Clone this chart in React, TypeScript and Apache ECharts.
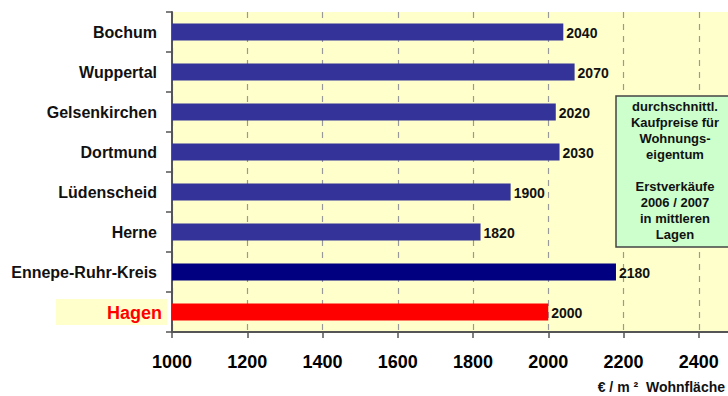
import React, { useEffect, useRef } from "react";
import * as echarts from "echarts";

// Average purchase prices for owner-occupied flats (€ per m² living space)
const regions = [
  "Bochum",
  "Wuppertal",
  "Gelsenkirchen",
  "Dortmund",
  "Lüdenscheid",
  "Herne",
  "Ennepe-Ruhr-Kreis",
  "Hagen",
];
const prices = [2040, 2070, 2020, 2030, 1900, 1820, 2180, 2000];
const barColors = [
  "#333399",
  "#333399",
  "#333399",
  "#333399",
  "#333399",
  "#333399",
  "#000080",
  "#FF0000",
];
const xTicks = { min: 1000, max: 2600, interval: 200 };
const noteLines = [
  "durchschnittl.",
  "Kaufpreise für",
  "Wohnungs-",
  "eigentum",
  "",
  "Erstverkäufe",
  "2006 / 2007",
  "in mittleren",
  "Lagen",
];
const axisTitle = "€ / m ²  Wohnfläche";

const FONT = "Arial, 'Liberation Sans', Helvetica, sans-serif";

export default function App() {
  const ref = useRef<HTMLDivElement>(null);

  useEffect(() => {
    document.body.style.margin = "0";
    const chart = echarts.init(ref.current!, null, { renderer: "svg" });
    chart.setOption({
      animation: false,
      textStyle: { fontFamily: FONT },
      grid: {
        left: 172,
        top: 12,
        height: 320,
        width: 602,
        show: true,
        backgroundColor: "#FFFFCC",
        borderWidth: 0,
        containLabel: false,
        outerBoundsMode: "none",
      },
      xAxis: {
        type: "value",
        min: xTicks.min,
        max: xTicks.max,
        interval: xTicks.interval,
        axisLine: { show: true, lineStyle: { color: "#555", width: 2 } },
        axisTick: { show: true, length: 6, lineStyle: { color: "#555", width: 1.5 } },
        axisLabel: {
          fontSize: 18,
          fontWeight: "bold",
          color: "#000",
          margin: 21,
          fontFamily: FONT,
          showMaxLabel: false,
          formatter: (v: number) => (v >= xTicks.max ? "" : String(v)),
        },
        splitLine: {
          show: true,
          lineStyle: { color: "#999", type: [6, 6], width: 1.2 },
        },
      },
      yAxis: {
        type: "category",
        data: regions,
        inverse: true,
        axisLine: { show: true, lineStyle: { color: "#555", width: 2 } },
        axisTick: { show: true, length: 6, lineStyle: { color: "#555", width: 1.5 } },
        splitLine: { show: false },
        axisLabel: {
          margin: 5,
          fontFamily: FONT,
          formatter: (v: string) => (v === "Hagen" ? `{h|${v}}` : `{n|${v}}`),
          rich: {
            n: {
              fontSize: 16,
              fontWeight: "bold",
              color: "#111",
              padding: [0, 10, 0, 0],
              fontFamily: FONT,
            },
            h: {
              fontSize: 18,
              fontWeight: "bold",
              color: "#FF0000",
              backgroundColor: "#FFFFCC",
              padding: [5, 5, 3, 51],
              fontFamily: FONT,
            },
          },
        },
      },
      series: [
        {
          type: "bar",
          barWidth: 17,
          data: prices.map((p, i) => ({
            value: p,
            itemStyle: { color: barColors[i] },
          })),
          label: {
            show: true,
            position: "right",
            distance: 3,
            offset: [0, 1],
            fontSize: 14,
            fontWeight: "bold",
            color: "#111",
            fontFamily: FONT,
            formatter: (p: any) => String(p.value),
          },
        },
      ],
      graphic: [
        {
          type: "rect",
          shape: { x: 616, y: 96, width: 122, height: 151 },
          style: { fill: "#CCFFCC", stroke: "#444", lineWidth: 1.5 },
          z: 10,
        },
        {
          type: "text",
          x: 675,
          y: 98,
          z: 11,
          style: {
            text: noteLines.join("\n"),
            textAlign: "center",
            textVerticalAlign: "top",
            fontSize: 13,
            fontWeight: "bold",
            lineHeight: 16,
            fill: "#111",
            fontFamily: FONT,
          },
        },
        {
          type: "text",
          right: 3,
          top: 380,
          style: {
            text: axisTitle,
            fontSize: 14,
            fontWeight: "bold",
            fill: "#111",
            fontFamily: FONT,
          },
        },
      ],
    });
    return () => chart.dispose();
  }, []);

  return <div ref={ref} style={{ width: 728, height: 396 }} />;
}
